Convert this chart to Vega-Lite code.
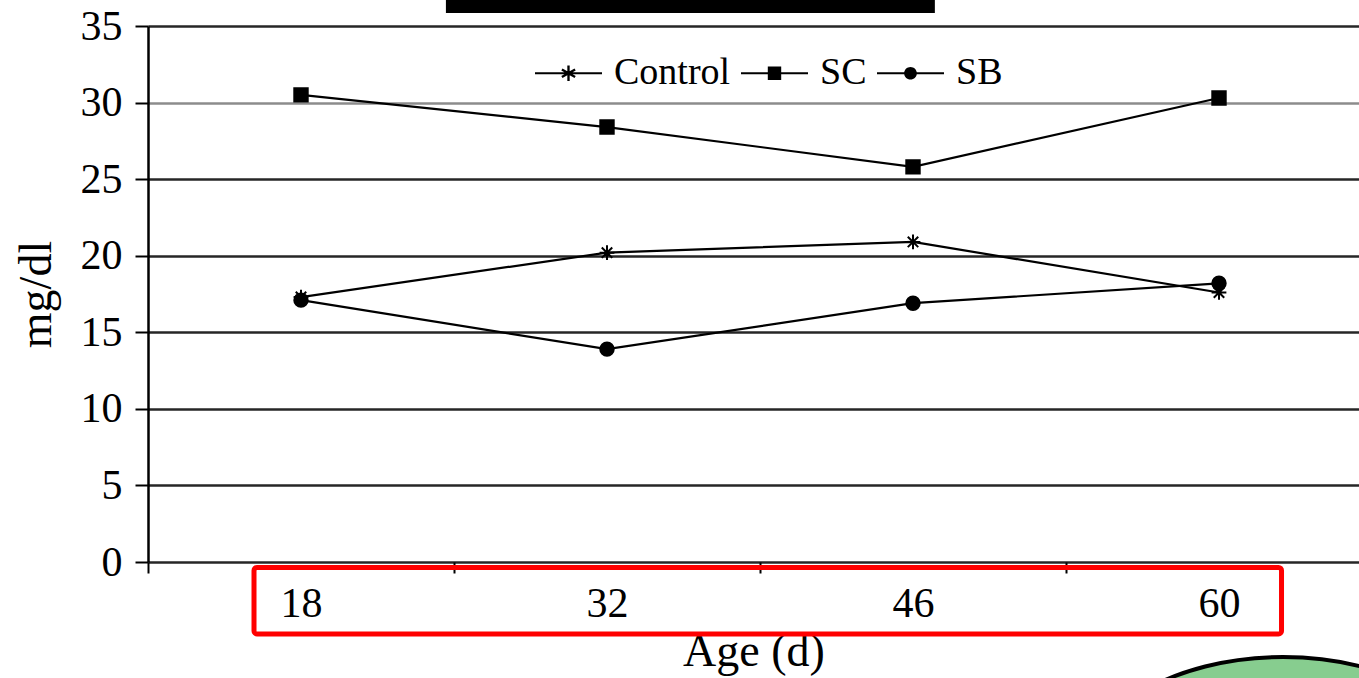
{
  "$schema": "https://vega.github.io/schema/vega-lite/v6.json",
  "width": 1211,
  "height": 536,
  "autosize": {"type": "none"},
  "padding": {"left": 148, "top": 26, "right": 0, "bottom": 116},
  "background": "white",
  "config": {
    "view": {"stroke": null},
    "font": "Liberation Serif",
    "axis": {"labelFont": "Liberation Serif", "titleFont": "Liberation Serif", "labelColor": "black", "titleColor": "black", "titleFontWeight": "normal"},
    "legend": {"labelFont": "Liberation Serif"}
  },
  "datasets": {
    "series": [
      {"age": 18, "value": 17.3, "group": "Control"},
      {"age": 32, "value": 20.2, "group": "Control"},
      {"age": 46, "value": 20.9, "group": "Control"},
      {"age": 60, "value": 17.6, "group": "Control"},
      {"age": 18, "value": 30.5, "group": "SC"},
      {"age": 32, "value": 28.4, "group": "SC"},
      {"age": 46, "value": 25.8, "group": "SC"},
      {"age": 60, "value": 30.3, "group": "SC"},
      {"age": 18, "value": 17.1, "group": "SB"},
      {"age": 32, "value": 13.9, "group": "SB"},
      {"age": 46, "value": 16.9, "group": "SB"},
      {"age": 60, "value": 18.2, "group": "SB"}
    ],
    "redaction": [{"age": 24.63, "age2": 47.0, "value": 36.7, "value2": 35.85}],
    "highlight": [{"age": 15.85, "age2": 62.86, "value": -0.36, "value2": -4.7}],
    "ellipse": [{"age": 62.93, "value": -14.04}]
  },
  "data": {"name": "series"},
  "encoding": {
    "y": {
      "field": "value", "type": "quantitative",
      "scale": {"domain": [0, 35], "nice": false},
      "axis": {
        "values": [0, 5, 10, 15, 20, 25, 30, 35],
        "grid": true,
        "gridColor": {"condition": {"test": "datum.value === 30", "value": "#8c8c8c"}, "value": "#262626"},
        "gridWidth": 2.6,
        "domain": true, "domainColor": "black", "domainWidth": 2.5,
        "ticks": true, "tickSize": 13, "tickColor": "black", "tickWidth": 2,
        "labelFontSize": 42, "labelPadding": 13,
        "title": "mg/dl", "titleFontSize": 46, "titlePadding": 20
      }
    }
  },
  "layer": [
    {
      "mark": {"type": "line", "color": "black", "strokeWidth": 2.2},
      "encoding": {
        "x": {
          "field": "age", "type": "quantitative",
          "scale": {"domain": [11, 66.405], "nice": false, "zero": false},
          "axis": {
            "values": [18, 32, 46, 60], "ticks": false, "tickSize": 0, "domain": false, "grid": false,
            "labelFontSize": 42, "labelPadding": 21, "labelFlush": false, "labelOverlap": false,
            "title": "Age (d)", "titleFontSize": 46, "titlePadding": 5, "orient": "bottom"
          }
        },
        "detail": {"field": "group", "type": "nominal"}
      }
    },
    {
      "mark": {"type": "point", "filled": true, "color": "black", "stroke": "black", "strokeWidth": 2, "size": 180, "opacity": 1},
      "encoding": {
        "x": {
          "field": "age", "type": "quantitative",
          "scale": {"domain": [11, 66.405], "nice": false, "zero": false},
          "axis": {
            "values": [11, 25, 39, 53], "labels": false, "ticks": true, "tickSize": 11, "tickWidth": 2, "tickColor": "black",
            "domain": false, "grid": false, "title": null, "orient": "bottom"
          }
        },
        "shape": {
          "field": "group", "type": "nominal",
          "scale": {
            "domain": ["Control", "SC", "SB"],
            "range": ["M-1.1,0H1.1M0,-1.1V1.1M-0.78,-0.78L0.78,0.78M-0.78,0.78L0.78,-0.78", "square", "circle"]
          },
          "legend": null
        }
      }
    },
    {
      "mark": {"type": "point", "filled": true, "color": "black", "size": 4489, "opacity": 0},
      "encoding": {
        "x": {"field": "age", "type": "quantitative", "scale": {"domain": [11, 66.405], "nice": false, "zero": false}, "axis": null},
        "shape": {
          "field": "group", "type": "nominal",
          "scale": {
            "domain": ["Control", "SC", "SB"],
            "range": [
              "M-1,-0.033H1V0.033H-1ZM-0.035,-0.23H0.035V0.23H-0.035ZM-0.215,-0.082L-0.18,-0.142L0.215,0.082L0.18,0.142ZM-0.18,0.142L-0.215,0.082L0.18,-0.142L0.215,-0.082Z",
              "M-1,-0.033H1V0.033H-1ZM-0.2,-0.2H0.2V0.2H-0.2Z",
              "M-1,-0.033H1V0.033H-1ZM-0.19,0A0.19,0.19 0 1,1 0.19,0A0.19,0.19 0 1,1 -0.19,0Z"
            ]
          },
          "legend": {
            "orient": "none", "legendX": 387, "legendY": 13.5, "direction": "horizontal",
            "title": null, "padding": 0,
            "labelFontSize": 38, "labelColor": "black", "labelOffset": 12, "columnPadding": 10,
            "symbolSize": 4489, "symbolFillColor": "black", "symbolStrokeColor": "black", "symbolStrokeWidth": 0, "symbolOpacity": 1
          }
        }
      }
    },
    {
      "data": {"name": "redaction"},
      "mark": {"type": "rect", "color": "black"},
      "encoding": {
        "x": {"field": "age", "type": "quantitative", "scale": {"domain": [11, 66.405], "nice": false, "zero": false}, "axis": null},
        "x2": {"field": "age2"},
        "y2": {"field": "value2"}
      }
    },
    {
      "data": {"name": "highlight"},
      "mark": {"type": "rect", "filled": false, "stroke": "#ff0000", "strokeWidth": 5, "cornerRadius": 3},
      "encoding": {
        "x": {"field": "age", "type": "quantitative", "scale": {"domain": [11, 66.405], "nice": false, "zero": false}, "axis": null},
        "x2": {"field": "age2"},
        "y2": {"field": "value2"}
      }
    },
    {
      "data": {"name": "ellipse"},
      "mark": {"type": "point", "filled": true, "fill": "#87cd8f", "stroke": "black", "strokeWidth": 4, "opacity": 1, "size": 160000,
               "shape": "M-1,0A1,0.6 0 1,1 1,0A1,0.6 0 1,1 -1,0Z"},
      "encoding": {
        "x": {"field": "age", "type": "quantitative", "scale": {"domain": [11, 66.405], "nice": false, "zero": false}, "axis": null}
      }
    }
  ],
  "resolve": {"scale": {"shape": "independent"}, "axis": {"x": "independent"}}
}
